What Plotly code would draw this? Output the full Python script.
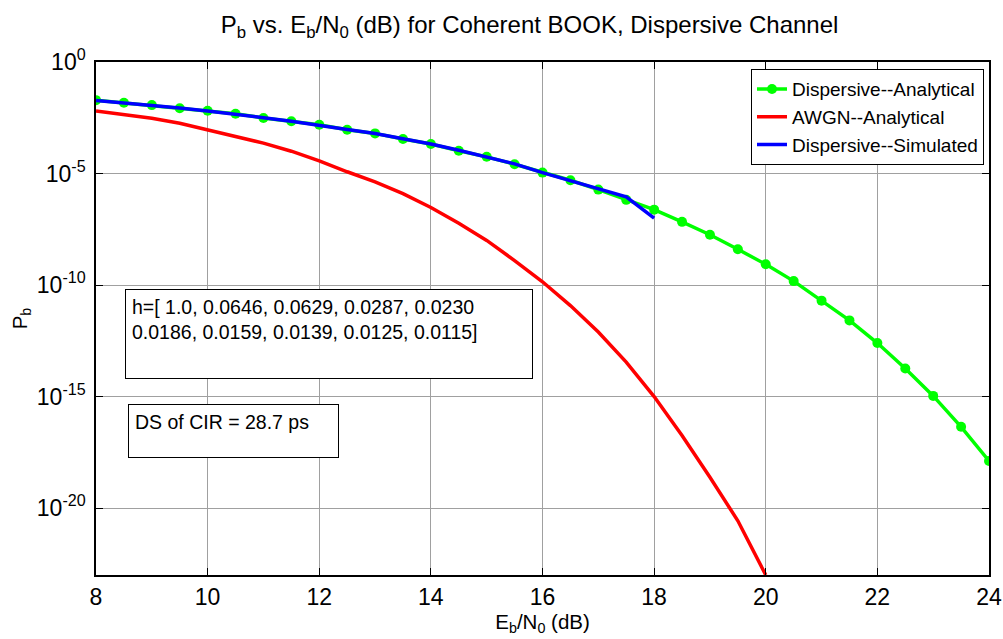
import plotly.graph_objects as go

# ---------------- data ----------------
ebn0_analytical = [8, 8.5, 9, 9.5, 10, 10.5, 11, 11.5, 12, 12.5, 13, 13.5, 14, 14.5, 15, 15.5,
                   16, 16.5, 17, 17.5, 18, 18.5, 19, 19.5, 20, 20.5, 21, 21.5, 22, 22.5, 23, 23.5, 24]
pb_dispersive_analytical = [1.95e-2, 1.48e-2, 1.17e-2, 8.5e-3, 6.5e-3, 4.8e-3, 3.1e-3, 2.2e-3,
                            1.55e-3, 9.1e-4, 6.3e-4, 3.5e-4, 2.1e-4, 1.05e-4, 5.6e-5, 2.6e-5,
                            1.1e-5, 5.0e-6, 1.9e-6, 6.6e-7, 2.4e-7, 6.8e-8, 1.8e-8, 4.0e-9,
                            8.5e-10, 1.5e-10, 2.0e-11, 2.6e-12, 2.5e-13, 1.8e-14, 1.07e-15,
                            4.4e-17, 1.3e-18]

ebn0_awgn = [8, 8.5, 9, 9.5, 10, 10.5, 11, 11.5, 12, 12.5, 13, 13.5, 14, 14.5, 15, 15.5,
             16, 16.5, 17, 17.5, 18, 18.5, 19, 19.5, 20]
pb_awgn_analytical = [6.3e-3, 4.5e-3, 3.0e-3, 1.8e-3, 9.0e-4, 4.7e-4, 2.3e-4, 1.0e-4,
                      3.7e-5, 1.2e-5, 4.2e-6, 1.25e-6, 3.0e-7, 5.9e-8, 1.0e-8, 1.25e-9,
                      1.4e-10, 1.2e-11, 7.8e-13, 3.5e-14, 1.0e-15, 1.8e-17, 2.4e-19,
                      2.7e-21, 1.0e-23]

ebn0_sim = [8, 8.5, 9, 9.5, 10, 10.5, 11, 11.5, 12, 12.5, 13, 13.5, 14, 14.5, 15, 15.5,
            16, 16.5, 17, 17.5, 18]
pb_dispersive_simulated = [1.9e-2, 1.5e-2, 1.15e-2, 8.6e-3, 6.4e-3, 4.7e-3, 3.2e-3, 2.2e-3,
                           1.5e-3, 9.5e-4, 6.2e-4, 3.6e-4, 2.1e-4, 1.1e-4, 5.5e-5, 2.7e-5,
                           1.1e-5, 4.8e-6, 2.0e-6, 9.1e-7, 1.0e-7]

x_ticks = [8, 10, 12, 14, 16, 18, 20, 22, 24]
y_tickvals = [1e0, 1e-5, 1e-10, 1e-15, 1e-20]
y_ticktext = ["10<sup>0</sup>", "10<sup>-5</sup>", "10<sup>-10</sup>",
              "10<sup>-15</sup>", "10<sup>-20</sup>"]

h_text = "h=[ 1.0, 0.0646, 0.0629, 0.0287, 0.0230<br>0.0186, 0.0159, 0.0139, 0.0125, 0.0115]"
ds_text = "DS of CIR = 28.7 ps"

FONT = "Arial, Liberation Sans, sans-serif"

# ---------------- figure ----------------
fig = go.Figure()
fig.add_trace(go.Scatter(
    x=ebn0_analytical, y=pb_dispersive_analytical, mode="lines+markers",
    name="Dispersive--Analytical",
    line=dict(color="#00ff00", width=3.5),
    marker=dict(color="#00ff00", size=10)))
fig.add_trace(go.Scatter(
    x=ebn0_awgn, y=pb_awgn_analytical, mode="lines",
    name="AWGN--Analytical",
    line=dict(color="#ff0000", width=3.5)))
fig.add_trace(go.Scatter(
    x=ebn0_sim, y=pb_dispersive_simulated, mode="lines",
    name="Dispersive--Simulated",
    line=dict(color="#0000ff", width=3.5)))

fig.update_layout(
    width=1003, height=639,
    paper_bgcolor="white", plot_bgcolor="white",
    margin=dict(l=96, r=14, t=62, b=64, autoexpand=False),
    font=dict(family=FONT, color="black", size=20),
    title=dict(text="P<sub>b</sub> vs. E<sub>b</sub>/N<sub>0</sub> (dB) for Coherent BOOK, Dispersive Channel",
               x=0.528, xanchor="center", y=0.962, yanchor="middle",
               font=dict(size=24, family=FONT)),
    showlegend=True,
    legend=dict(x=0.9944, xanchor="right", y=0.986, yanchor="top",
                bgcolor="white", bordercolor="black", borderwidth=1,
                font=dict(size=19, family=FONT), tracegroupgap=0,
                itemwidth=30),
)

fig.update_xaxes(
    range=[8, 24], tickvals=x_ticks, ticktext=[str(v) for v in x_ticks],
    showgrid=True, gridcolor="#a0a0a0", gridwidth=1,
    showline=True, linecolor="black", linewidth=2, mirror="ticks",
    ticks="inside", ticklen=7, tickcolor="black",
    tickfont=dict(size=23, family=FONT),
    zeroline=False,
    title=dict(text="E<sub>b</sub>/N<sub>0</sub> (dB)", font=dict(size=20.5, family=FONT), standoff=2),
)
fig.update_yaxes(
    type="log", range=[-23, 0], tickvals=y_tickvals, ticktext=y_ticktext,
    showgrid=True, gridcolor="#a0a0a0", gridwidth=1,
    showline=True, linecolor="black", linewidth=1.5, mirror="ticks",
    ticks="inside", ticklen=7, tickcolor="black",
    tickfont=dict(size=23, family=FONT), ticklabelstandoff=4,
    zeroline=False,
    title=dict(text="P<sub>b</sub>", font=dict(size=20.5, family=FONT), standoff=4),
)

fig.add_annotation(
    xref="paper", yref="paper", x=0.0325, y=0.5575, xanchor="left", yanchor="top",
    text=h_text, showarrow=False, align="left", valign="top",
    width=394, height=76, borderpad=6, bordercolor="black", borderwidth=1,
    bgcolor="white", font=dict(size=19.5, family=FONT))
fig.add_annotation(
    xref="paper", yref="paper", x=0.0355, y=0.334, xanchor="left", yanchor="top",
    text=ds_text, showarrow=False, align="left", valign="top",
    width=197, height=40, borderpad=6, bordercolor="black", borderwidth=1,
    bgcolor="white", font=dict(size=19.5, family=FONT))

fig.write_html("out.html", config={"displayModeBar": False},
               post_script="document.body.style.margin='0';")
